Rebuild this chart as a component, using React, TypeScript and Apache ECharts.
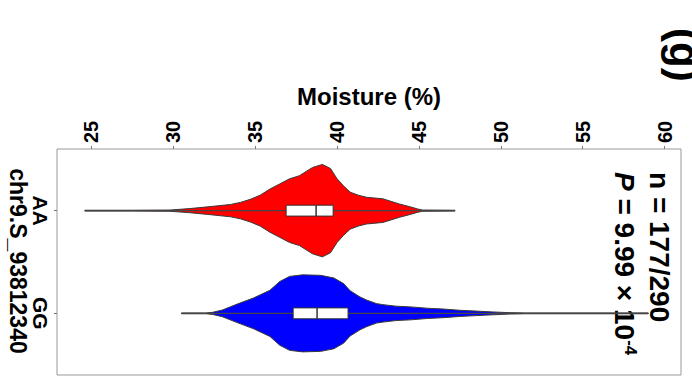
import React, { useEffect, useRef } from "react";
import * as echarts from "echarts";

// Categories (genotypes) and axis ticks
const categories = ["AA", "GG"];
const xTicks = [25, 30, 35, 40, 45, 50, 55, 60];
const yAxisTitle = "chr9.S_93812340";

// Violin outlines: moisture value and half-width (in category units)
const aaMoisture = [24.6, 27.5, 29.8, 31.0, 32.3, 33.5, 34.1, 34.7, 35.3, 35.9, 36.5, 37.1, 37.7, 38.5, 39.1, 39.6, 40.0, 40.4, 40.8, 41.3, 41.8, 42.8, 43.8, 44.4, 44.9, 45.2, 47.2];
const aaHalfWidth = [0.004, 0.004, 0.006, 0.02, 0.04, 0.06, 0.08, 0.11, 0.15, 0.21, 0.26, 0.31, 0.34, 0.42, 0.45, 0.41, 0.31, 0.24, 0.18, 0.15, 0.13, 0.115, 0.065, 0.04, 0.017, 0.006, 0.004];

const ggMoisture = [30.5, 32.0, 32.4, 33.0, 33.9, 34.9, 35.9, 36.5, 37.1, 37.9, 39.0, 39.8, 40.4, 40.8, 41.4, 41.8, 42.4, 42.8, 43.6, 44.5, 45.5, 46.5, 47.5, 48.5, 49.5, 50.5, 51.5, 59.0];
const ggHalfWidth = [0.004, 0.004, 0.01, 0.033, 0.09, 0.15, 0.225, 0.31, 0.36, 0.375, 0.37, 0.345, 0.29, 0.22, 0.16, 0.13, 0.095, 0.085, 0.07, 0.063, 0.05, 0.042, 0.03, 0.022, 0.014, 0.007, 0.004, 0.004];

// Box summaries: Q1, median, Q3
const aaBox = [36.89, 38.72, 39.76];
const ggBox = [37.32, 38.78, 40.67];

const violinColors = ["#FF0000", "#0000FF"];

export default function App() {
  const ref = useRef<HTMLDivElement>(null);

  useEffect(() => {
    if (!ref.current) return;
    const chart = echarts.init(ref.current, null, { renderer: "svg" });
    const outlines = [
      { m: aaMoisture, h: aaHalfWidth, box: aaBox },
      { m: ggMoisture, h: ggHalfWidth, box: ggBox },
    ];
    const font = "Liberation Sans, Arial, sans-serif";

    const renderItem = (params: any, api: any) => {
      const i = params.dataIndex;
      const o = outlines[i];
      const cat = i + 1;
      const top = o.m.map((v: number, k: number) => api.coord([v, cat - o.h[k]]));
      const bottom = o.m
        .map((v: number, k: number) => api.coord([v, cat + o.h[k]]))
        .reverse();
      const pts = top.concat(bottom);
      const lineStart = api.coord([o.m[0], cat]);
      const lineEnd = api.coord([o.m[o.m.length - 1], cat]);
      const bh = 0.053;
      const b1 = api.coord([o.box[0], cat - bh]);
      const b2 = api.coord([o.box[2], cat + bh]);
      const med1 = api.coord([o.box[1], cat - bh]);
      const med2 = api.coord([o.box[1], cat + bh]);
      return {
        type: "group",
        children: [
          {
            type: "polygon",
            shape: { points: pts },
            style: { fill: violinColors[i], stroke: "#3a3a3a", lineWidth: 1 },
          },
          {
            type: "line",
            shape: { x1: lineStart[0], y1: lineStart[1], x2: lineEnd[0], y2: lineEnd[1] },
            style: { stroke: "#444", lineWidth: 1.2 },
          },
          {
            type: "rect",
            shape: {
              x: Math.min(b1[0], b2[0]),
              y: Math.min(b1[1], b2[1]),
              width: Math.abs(b2[0] - b1[0]),
              height: Math.abs(b2[1] - b1[1]),
            },
            style: { fill: "#fff", stroke: "#333", lineWidth: 1 },
          },
          {
            type: "line",
            shape: { x1: med1[0], y1: med1[1], x2: med2[0], y2: med2[1] },
            style: { stroke: "#333", lineWidth: 1.5 },
          },
        ],
      };
    };

    chart.setOption({
      animation: false,
      backgroundColor: "#fff",
      textStyle: { fontFamily: font },
      grid: {
        left: 57,
        right: 11,
        top: 149,
        bottom: 8,
        containLabel: false,
        outerBoundsMode: "none",
        show: true,
        borderColor: "#999",
        borderWidth: 1,
        backgroundColor: "transparent",
      },
      xAxis: {
        type: "value",
        position: "top",
        min: 22.9,
        max: 61,
        name: "Moisture (%)",
        nameLocation: "middle",
        nameGap: 41,
        nameTextStyle: { fontSize: 24, fontWeight: "bold", color: "#000", fontFamily: font },
        axisLine: { show: false },
        splitLine: { show: false },
        axisTick: { show: true, customValues: xTicks, length: 3, lineStyle: { color: "#777" } },
        axisLabel: {
          customValues: xTicks,
          rotate: -90,
          fontSize: 20,
          fontWeight: "bold",
          color: "#000",
          margin: 6,
          fontFamily: font,
          formatter: (v: number) => String(v),
        },
      },
      yAxis: {
        type: "value",
        inverse: true,
        min: 0.4,
        max: 2.6,
        axisLine: { show: false },
        splitLine: { show: false },
        axisTick: { show: true, customValues: [1, 2], length: 3, lineStyle: { color: "#777" } },
        axisLabel: {
          customValues: [1, 2],
          rotate: -90,
          fontSize: 21,
          fontWeight: "bold",
          color: "#000",
          margin: 6,
          fontFamily: font,
          formatter: (v: number) => categories[Math.round(v) - 1] ?? "",
        },
      },
      series: [
        {
          type: "custom",
          renderItem,
          encode: { x: 0, y: 1 },
          data: [
            [aaBox[1], 1],
            [ggBox[1], 2],
          ],
          clip: false,
        },
      ],
      graphic: [
        {
          type: "text",
          x: 18,
          y: 261,
          rotation: -Math.PI / 2,
          style: {
            text: yAxisTitle,
            fontSize: 23,
            fontWeight: "bold",
            fontFamily: font,
            fill: "#000",
            align: "center",
            verticalAlign: "middle",
          },
        },
        {
          type: "text",
          x: 659,
          y: 172,
          rotation: -Math.PI / 2,
          style: {
            text: "n = 177/290",
            fontSize: 28,
            fontWeight: "bold",
            fontFamily: font,
            fill: "#000",
            align: "left",
            verticalAlign: "middle",
          },
        },
        {
          type: "text",
          x: 624,
          y: 172,
          rotation: -Math.PI / 2,
          style: {
            text: "{p|P} = 9.99 × 10{s|-4}",
            fontSize: 28,
            fontWeight: "bold",
            fontFamily: font,
            fill: "#000",
            align: "left",
            verticalAlign: "middle",
            rich: {
              p: { fontSize: 28, fontWeight: "bold", fontStyle: "italic", fontFamily: font },
              s: { fontSize: 17, fontWeight: "bold", fontFamily: font, verticalAlign: "top", padding: [0, 0, 12, 0] },
            },
          },
        },
        {
          type: "text",
          x: 684,
          y: 28,
          rotation: -Math.PI / 2,
          style: {
            text: "(g)",
            fontSize: 42,
            fontWeight: "bold",
            fontFamily: font,
            fill: "#000",
            align: "left",
            verticalAlign: "middle",
          },
        },
      ],
    });
    return () => chart.dispose();
  }, []);

  return (
    <div
      ref={ref}
      style={{ position: "fixed", left: 0, top: 0, width: 692, height: 383 }}
    />
  );
}
